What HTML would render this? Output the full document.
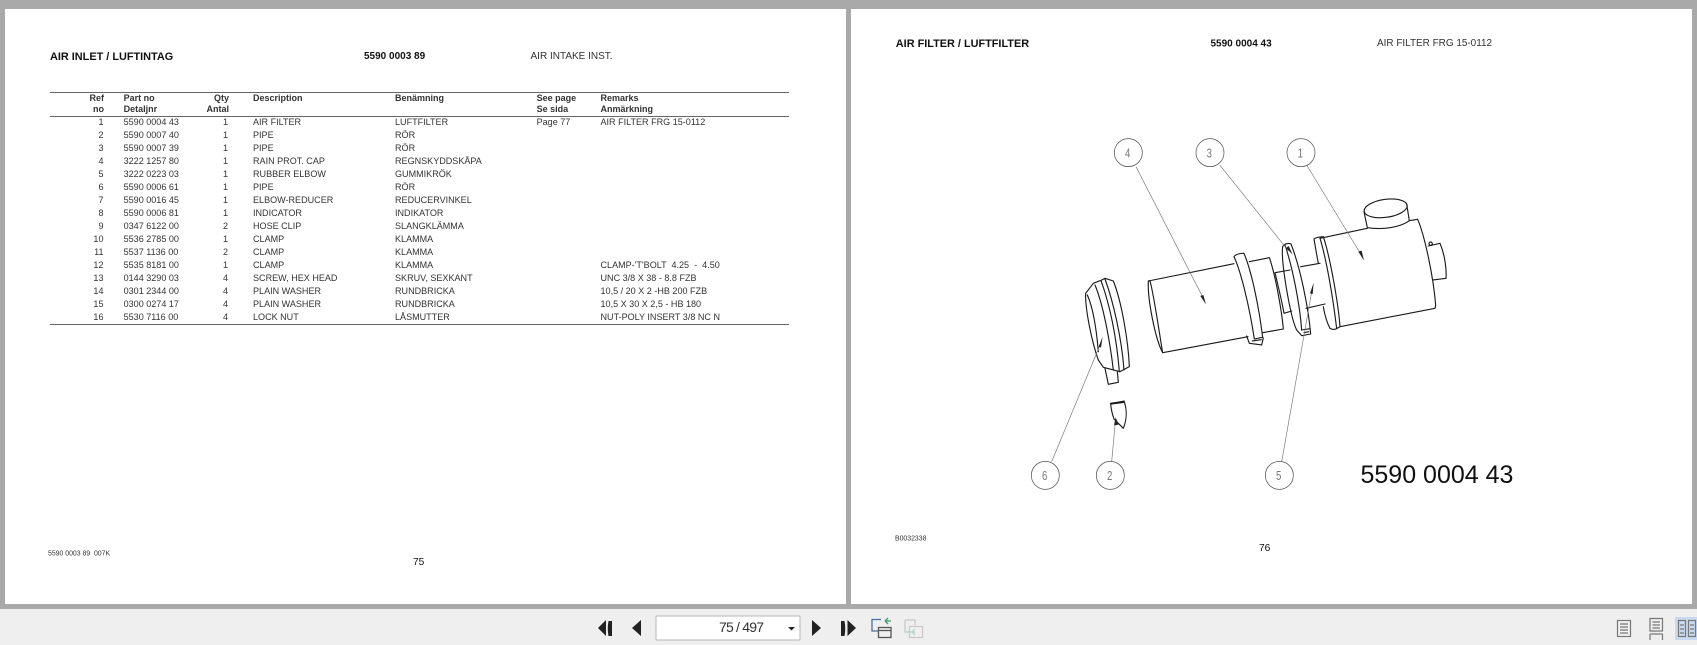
<!DOCTYPE html>
<html lang="en">
<head>
<meta charset="utf-8">
<title>Air filter parts</title>
<style>
html,body{margin:0;padding:0;width:1697px;height:645px;overflow:hidden;background:#a9a9a9}
svg{position:absolute;left:0;top:0;display:block}
text{font-family:"Liberation Sans",Arial,sans-serif;fill:#333}
.r{font-size:9.05px}
.b{font-size:9px;font-weight:bold}
.e{text-anchor:end}
.n{font-size:40px;fill:#777;text-anchor:middle}
.p path,.p ellipse,.p circle{fill:none;stroke:#1a1a1a;stroke-width:3.4;stroke-linejoin:round;stroke-linecap:round}
.l line{stroke:#777;stroke-width:2}
.c circle{fill:#fff;stroke:#555;stroke-width:2.2}
.a path{fill:#222;stroke:none}
</style>
</head>
<body>
<svg width="1697" height="645" viewBox="0 0 1697 645" xmlns="http://www.w3.org/2000/svg">
<rect width="1697" height="645" fill="#a9a9a9"/>
<rect x="5" y="9" width="841" height="595" fill="#fff"/>
<rect x="851" y="9" width="841" height="595" fill="#fff"/>
<rect x="0" y="609" width="1697" height="36" fill="#efefef"/>

<!-- Left page header -->
<text x="50" y="60" font-size="10.9" font-weight="bold" style="fill:#111">AIR INLET / LUFTINTAG</text>
<text x="364" y="59" font-size="10" font-weight="bold" style="fill:#111">5590 0003 89</text>
<text x="530.5" y="59" font-size="10">AIR INTAKE INST.</text>

<!-- Table rules -->
<rect x="50" y="92" width="739" height="1" fill="#666"/>
<rect x="50" y="116" width="739" height="1" fill="#666"/>
<rect x="50" y="324" width="739" height="1" fill="#666"/>

<!-- Table head -->
<text class="b e" x="104" y="101">Ref</text><text class="b" x="123.6" y="101">Part no</text><text class="b e" x="229" y="101">Qty</text><text class="b" x="253" y="101">Description</text><text class="b" x="395" y="101">Benämning</text><text class="b" x="536.6" y="101">See page</text><text class="b" x="600.5" y="101">Remarks</text>
<text class="b e" x="104" y="112">no</text><text class="b" x="123.6" y="112">Detaljnr</text><text class="b e" x="229" y="112">Antal</text><text class="b" x="536.6" y="112">Se sida</text><text class="b" x="600.5" y="112">Anmärkning</text>

<!-- Table rows -->
<text class="r e" x="103.5" y="125">1</text><text class="r" x="123.6" y="125">5590 0004 43</text><text class="r e" x="228" y="125">1</text><text class="r" x="253" y="125">AIR FILTER</text><text class="r" x="395" y="125">LUFTFILTER</text><text class="r" x="536.6" y="125">Page 77</text><text class="r" x="600.5" y="125">AIR FILTER FRG 15-0112</text>
<text class="r e" x="103.5" y="138">2</text><text class="r" x="123.6" y="138">5590 0007 40</text><text class="r e" x="228" y="138">1</text><text class="r" x="253" y="138">PIPE</text><text class="r" x="395" y="138">RÖR</text>
<text class="r e" x="103.5" y="151">3</text><text class="r" x="123.6" y="151">5590 0007 39</text><text class="r e" x="228" y="151">1</text><text class="r" x="253" y="151">PIPE</text><text class="r" x="395" y="151">RÖR</text>
<text class="r e" x="103.5" y="164">4</text><text class="r" x="123.6" y="164">3222 1257 80</text><text class="r e" x="228" y="164">1</text><text class="r" x="253" y="164">RAIN PROT. CAP</text><text class="r" x="395" y="164">REGNSKYDDSKÅPA</text>
<text class="r e" x="103.5" y="177">5</text><text class="r" x="123.6" y="177">3222 0223 03</text><text class="r e" x="228" y="177">1</text><text class="r" x="253" y="177">RUBBER ELBOW</text><text class="r" x="395" y="177">GUMMIKRÖK</text>
<text class="r e" x="103.5" y="190">6</text><text class="r" x="123.6" y="190">5590 0006 61</text><text class="r e" x="228" y="190">1</text><text class="r" x="253" y="190">PIPE</text><text class="r" x="395" y="190">RÖR</text>
<text class="r e" x="103.5" y="203">7</text><text class="r" x="123.6" y="203">5590 0016 45</text><text class="r e" x="228" y="203">1</text><text class="r" x="253" y="203">ELBOW-REDUCER</text><text class="r" x="395" y="203">REDUCERVINKEL</text>
<text class="r e" x="103.5" y="216">8</text><text class="r" x="123.6" y="216">5590 0006 81</text><text class="r e" x="228" y="216">1</text><text class="r" x="253" y="216">INDICATOR</text><text class="r" x="395" y="216">INDIKATOR</text>
<text class="r e" x="103.5" y="229">9</text><text class="r" x="123.6" y="229">0347 6122 00</text><text class="r e" x="228" y="229">2</text><text class="r" x="253" y="229">HOSE CLIP</text><text class="r" x="395" y="229">SLANGKLÄMMA</text>
<text class="r e" x="103.5" y="242">10</text><text class="r" x="123.6" y="242">5536 2785 00</text><text class="r e" x="228" y="242">1</text><text class="r" x="253" y="242">CLAMP</text><text class="r" x="395" y="242">KLAMMA</text>
<text class="r e" x="103.5" y="255">11</text><text class="r" x="123.6" y="255">5537 1136 00</text><text class="r e" x="228" y="255">2</text><text class="r" x="253" y="255">CLAMP</text><text class="r" x="395" y="255">KLAMMA</text>
<text class="r e" x="103.5" y="268">12</text><text class="r" x="123.6" y="268">5535 8181 00</text><text class="r e" x="228" y="268">1</text><text class="r" x="253" y="268">CLAMP</text><text class="r" x="395" y="268">KLAMMA</text><text class="r" x="600.5" y="268" xml:space="preserve">CLAMP-'T'BOLT  4.25  -  4.50</text>
<text class="r e" x="103.5" y="281">13</text><text class="r" x="123.6" y="281">0144 3290 03</text><text class="r e" x="228" y="281">4</text><text class="r" x="253" y="281">SCREW, HEX HEAD</text><text class="r" x="395" y="281">SKRUV, SEXKANT</text><text class="r" x="600.5" y="281">UNC 3/8 X 38 - 8.8 FZB</text>
<text class="r e" x="103.5" y="294">14</text><text class="r" x="123.6" y="294">0301 2344 00</text><text class="r e" x="228" y="294">4</text><text class="r" x="253" y="294">PLAIN WASHER</text><text class="r" x="395" y="294">RUNDBRICKA</text><text class="r" x="600.5" y="294">10,5 / 20 X 2 -HB 200 FZB</text>
<text class="r e" x="103.5" y="307">15</text><text class="r" x="123.6" y="307">0300 0274 17</text><text class="r e" x="228" y="307">4</text><text class="r" x="253" y="307">PLAIN WASHER</text><text class="r" x="395" y="307">RUNDBRICKA</text><text class="r" x="600.5" y="307">10,5 X 30 X 2,5 - HB 180</text>
<text class="r e" x="103.5" y="320">16</text><text class="r" x="123.6" y="320">5530 7116 00</text><text class="r e" x="228" y="320">4</text><text class="r" x="253" y="320">LOCK NUT</text><text class="r" x="395" y="320">LÅSMUTTER</text><text class="r" x="600.5" y="320">NUT-POLY INSERT 3/8 NC N</text>

<!-- Left page footer -->
<text x="48" y="555.5" font-size="6.9" xml:space="preserve">5590 0003 89  007K</text>
<text x="413" y="565" font-size="10.2" style="fill:#111">75</text>

<!-- Right page header -->
<text x="895.8" y="47" font-size="10.9" font-weight="bold" style="fill:#111">AIR FILTER / LUFTFILTER</text>
<text x="1210.5" y="46.5" font-size="10" font-weight="bold" style="fill:#111">5590 0004 43</text>
<text x="1377" y="46" font-size="9.95">AIR FILTER FRG 15-0112</text>

<!-- Drawing, in 3x coordinates -->
<g transform="translate(1000 120) scale(.33333)">
  <g class="p">
    <!-- Element 4 -->
    <path d="M445 483C442 535 465 655 488 698C478 640 462 525 450 483Z"/>
    <path d="M445 483L702 431"/>
    <path d="M488 698L744 650"/>
    <path d="M748 425L808 413C825 460 845 570 850 627L788 638"/>
    <path d="M702 410C706 403 722 399 732 400C757 460 778 570 788 652L763 657C750 570 725 460 702 410Z"/>
    <path d="M740 648L748 670L785 675L790 654"/>
    <path d="M757 663L784 659"/>
    <!-- Pipe -->
    <path d="M825 458L870 450M825 458C835 500 848 555 852 580L875 573"/>
    <path d="M902 440L960 430M918 565L975 552"/>
    <!-- Ring -->
    <path d="M848 380C842 420 870 590 890 630L905 647L932 642C925 560 900 440 873 372C865 368 853 371 848 380Z"/>
    <path d="M855 375C880 450 900 560 905 630"/>
    <path d="M905 630L930 626M912 638L926 635"/>
    <!-- Element 1 -->
    <path d="M960 355L1102 325M1228 302L1253 298C1275 350 1300 470 1307 555L1305 565L1020 620"/>
    <path d="M970 350C990 410 1015 550 1020 620L1010 626"/>
    <path d="M942 357C945 354 955 351 970 350"/>
    <path d="M960 355C980 420 1000 540 1010 626C1003 630 995 628 990 625"/>
    <path d="M942 357C946 380 950 405 955 430"/>
    <path d="M970 560C975 590 983 612 990 625"/>
    <ellipse cx="1157" cy="265" rx="65" ry="27" transform="rotate(-8 1157 265)"/>
    <path d="M1092 275L1102 323C1150 330 1200 322 1228 302L1220 252"/>
    <path d="M1285 378L1320 370C1335 405 1340 450 1338 475L1300 480"/>
    <circle cx="1292" cy="371" r="5"/>
    <!-- Element 6 -->
    <path d="M257 520L280 490L305 480L315 475L340 483C365 545 385 665 388 740L360 755L310 742L295 720C275 665 255 565 257 520Z"/>
    <path d="M262 525C280 565 290 635 295 695"/>
    <path d="M285 495C310 555 330 665 340 750"/>
    <path d="M303 482C330 555 350 655 358 755"/>
    <path d="M315 477C340 545 365 655 372 750"/>
    <path d="M315 745L325 793L355 787L352 755"/>
    <!-- Element 2 -->
    <path d="M332 851L372 843C382 870 380 900 370 925L342 897C336 880 333 865 332 851Z"/>
    <path d="M333 851L371 846" style="stroke-width:6"/>
  </g>
  <g class="l">
    <line x1="408" y1="140" x2="610" y2="535"/>
    <line x1="660" y1="136" x2="865" y2="392"/>
    <line x1="920" y1="135" x2="1082" y2="402"/>
    <line x1="845" y1="1025" x2="936" y2="510"/>
    <line x1="155" y1="1025" x2="298" y2="680"/>
    <line x1="335" y1="1025" x2="346" y2="905"/>
  </g>
  <g class="a">
    <path d="M618 553L601 528L610 525Z"/>
    <path d="M878 404L858 384L866 378Z"/>
    <path d="M1092 422L1075 395L1085 392Z"/>
    <path d="M941 488L930 520L938 522Z"/>
    <path d="M308 650L296 680L303 683Z"/>
    <path d="M347 892L342 916L356 914Z"/>
  </g>
  <g class="c">
    <circle cx="385" cy="98" r="42"/>
    <circle cx="630" cy="98" r="42"/>
    <circle cx="903" cy="98" r="42"/>
    <circle cx="136" cy="1066" r="42"/>
    <circle cx="331" cy="1066" r="42"/>
    <circle cx="838" cy="1066" r="42"/>
  </g>
  <text class="n" transform="translate(383 112) scale(.72 1)">4</text>
  <text class="n" transform="translate(628 112) scale(.72 1)">3</text>
  <text class="n" transform="translate(901 112) scale(.72 1)">1</text>
  <text class="n" transform="translate(134 1080) scale(.72 1)">6</text>
  <text class="n" transform="translate(329 1080) scale(.72 1)">2</text>
  <text class="n" transform="translate(836 1080) scale(.72 1)">5</text>
</g>
<text x="1360.5" y="483" font-size="25" style="fill:#111">5590 0004 43</text>

<!-- Right page footer -->
<text x="895" y="540.5" font-size="6.9">B0032338</text>
<text x="1259" y="551" font-size="10.2" style="fill:#111">76</text>

<!-- Toolbar navigation -->
<g fill="#222">
  <path d="M606 620V636L598 628Z"/><path d="M608.5 621H612V636H608.5C607.5 631 607.5 626 608.5 621Z"/>
  <path d="M641 620V636L632 628Z"/>
  <path d="M812 620V636L821 628Z"/>
  <path d="M841 621H844.5C845.5 626 845.5 631 844.5 636H841Z"/><path d="M847.5 620V636L856 628Z"/>
</g>
<rect x="656" y="616" width="144" height="24" rx="1" fill="#fff" stroke="#b5b5b5"/>
<text x="719" y="632" font-size="14" xml:space="preserve" textLength="45" lengthAdjust="spacing" style="fill:#333">75 / 497</text>
<path d="M788 627H795L791.5 630.5Z" fill="#222"/>

<!-- Toolbar page-move icons -->
<g fill="none" stroke-width="1.3">
  <path d="M881 619.5H872V631H878" stroke="#4a6fa5"/>
  <path d="M885 621H891M885 621L888 618M885 621L888 624" stroke="#3f9a6d"/>
  <rect x="878.5" y="627.5" width="12.5" height="10" stroke="#555"/>
  <path d="M878.5 630.5H891" stroke="#555"/>
  <path d="M905 620H915V625M905 620V632H909" stroke="#c8c8c8"/>
  <rect x="909.5" y="626.5" width="13" height="11" stroke="#c8c8c8"/>
  <path d="M905 632H915M912 632L915 629M912 632L915 635" stroke="#b8d4c6"/>
</g>

<!-- Toolbar view icons -->
<rect x="1675" y="617" width="22" height="23" fill="#c9d9f0"/>
<g fill="none" stroke="#777" stroke-width="1.2">
  <rect x="1617.5" y="620.5" width="13" height="16"/>
  <path d="M1620 624H1628M1620 627H1628M1620 630H1628M1620 633H1628"/>
  <path d="M1650 618.5H1662.5V631H1650ZM1650 634V640M1662.5 634V640M1650 634H1662.5"/>
  <path d="M1652.5 622H1660M1652.5 625H1660M1652.5 628H1660"/>
  <rect x="1678.5" y="620.5" width="7" height="16"/>
  <rect x="1688.5" y="620.5" width="7" height="16"/>
  <path d="M1680 625H1684M1680 629H1684M1680 633H1684M1690 625H1694M1690 629H1694M1690 633H1694"/>
</g>
</svg>
</body>
</html>
